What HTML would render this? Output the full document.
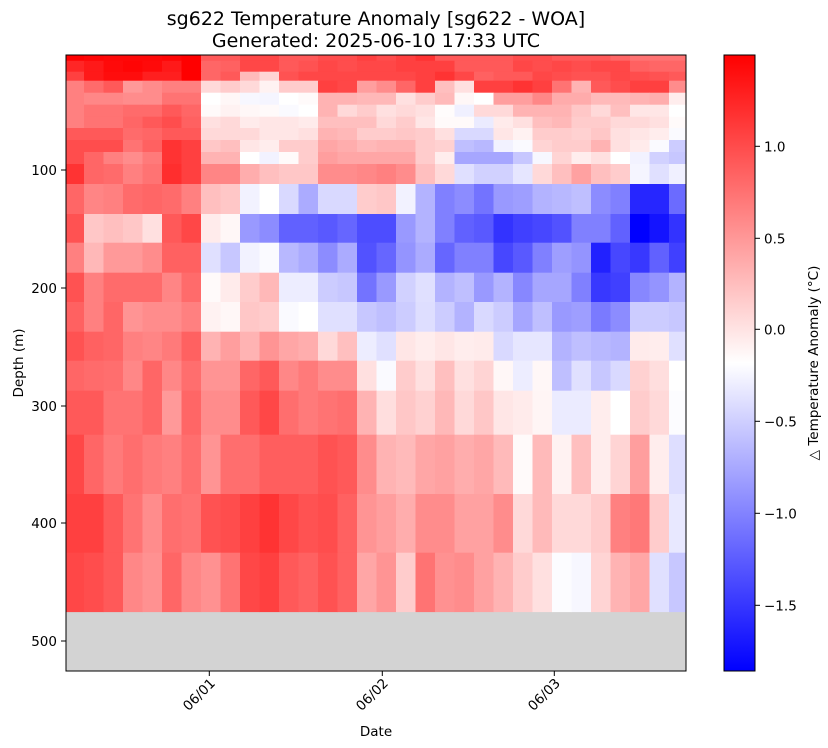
<!DOCTYPE html>
<html><head><meta charset="utf-8"><style>
html,body{margin:0;padding:0;background:#fff;}
svg{display:block;font-family:"DejaVu Sans","Liberation Sans",sans-serif;}
</style></head><body>
<svg id="s" width="828" height="748" viewBox="0 0 828 748" xmlns="http://www.w3.org/2000/svg">
<defs><linearGradient id="cb" x1="0" y1="1" x2="0" y2="0">
<stop offset="0" stop-color="#0000ff"/><stop offset="0.5" stop-color="#ffffff"/><stop offset="1" stop-color="#ff0000"/>
</linearGradient></defs>
<text x="376" y="25" font-size="19" text-anchor="middle">sg622 Temperature Anomaly [sg622 - WOA]</text>
<text x="376" y="47" font-size="19" text-anchor="middle">Generated: 2025-06-10 17:33 UTC</text>
<rect x="66" y="55" width="620" height="616" fill="#d3d3d3"/>
<g id="cells"></g>
<rect x="66" y="55" width="620" height="616" fill="none" stroke="#000" stroke-width="1"/>
<g stroke="#000" stroke-width="1">
<line x1="61" y1="170" x2="66" y2="170"/><line x1="61" y1="288" x2="66" y2="288"/>
<line x1="61" y1="406" x2="66" y2="406"/><line x1="61" y1="523" x2="66" y2="523"/>
<line x1="61" y1="641" x2="66" y2="641"/>
<line x1="209.3" y1="671" x2="209.3" y2="676"/><line x1="382.3" y1="671" x2="382.3" y2="676"/><line x1="554.3" y1="671" x2="554.3" y2="676"/>
</g>
<g font-size="13.5" text-anchor="end">
<text x="57" y="175">100</text><text x="57" y="293">200</text><text x="57" y="411">300</text>
<text x="57" y="528">400</text><text x="57" y="646">500</text>
<text transform="translate(216,684) rotate(-45)">06/01</text>
<text transform="translate(389,684) rotate(-45)">06/02</text>
<text transform="translate(561,684) rotate(-45)">06/03</text>
</g>
<text x="376" y="736" font-size="13.5" text-anchor="middle">Date</text>
<text transform="translate(23,363) rotate(-90)" font-size="13.5" text-anchor="middle">Depth (m)</text>
<rect x="724" y="55" width="31" height="616" fill="url(#cb)"/>
<rect x="724" y="55" width="31" height="616" fill="none" stroke="#000" stroke-width="1"/>
<g stroke="#000" stroke-width="1">
<line x1="755" y1="146.3" x2="760" y2="146.3"/><line x1="755" y1="238.3" x2="760" y2="238.3"/>
<line x1="755" y1="329.3" x2="760" y2="329.3"/><line x1="755" y1="421.3" x2="760" y2="421.3"/>
<line x1="755" y1="513.3" x2="760" y2="513.3"/><line x1="755" y1="605.3" x2="760" y2="605.3"/>
</g>
<g font-size="13.5">
<text x="764" y="151.3">1.0</text><text x="764" y="243.3">0.5</text><text x="764" y="334.3">0.0</text>
<text x="764" y="426.3">−0.5</text><text x="764" y="518.3">−1.0</text><text x="764" y="610.3">−1.5</text>
</g>
<text transform="translate(818,363) rotate(-90)" font-size="13.5" text-anchor="middle">△ Temperature Anomaly (°C)</text>
</svg>
<script>
var R=[55,60.7,71.7,80.7,92.7,104.7,116.7,128,140,152,164,184,214,242.7,272.7,302,331.7,360.7,390.7,434.7,494,552.7,611.7];
var C=[66,84];for(var k=1;k<=30;k++)C.push(84+19.5*k);C[31]=669;C.push(686);
var D=[
[1,.98,.97,.97,.97,.98,1,.65,.65,.72,.72,.65,.65,.7,.7,.75,.7,.75,.8,.65,.65,.65,.65,.7,.7,.65,.65,.65,.6,.55,.55,.55],
[.85,.9,.96,.98,.96,.9,1,.6,.62,.72,.72,.65,.68,.72,.7,.72,.72,.75,.75,.75,.65,.65,.65,.72,.7,.72,.7,.72,.72,.62,.6,.6],
[.75,.9,.95,.95,.88,.88,1,.6,.65,.27,.17,.68,.72,.72,.72,.72,.72,.72,.75,.8,.72,.62,.65,.65,.72,.7,.68,.68,.72,.7,.68,.65],
[.5,.58,.65,.4,.45,.5,.5,.15,.2,.15,.05,.2,.2,.75,.72,.38,.45,.6,.75,.25,.12,.75,.75,.8,.75,.55,.3,.65,.7,.75,.75,.45],
[.5,.47,.47,.45,.45,.55,.55,0,.03,-.03,-.04,0,.02,.3,.3,.28,.28,.12,.2,.27,.03,0,.38,.38,.47,.33,.33,.27,.27,.3,.32,.07],
[.5,.55,.55,.58,.58,.65,.6,.02,.05,.03,.02,-.02,0,.3,.15,.2,.12,.15,.12,.01,-.06,.15,.15,.3,.3,.3,.22,.15,.25,.1,.1,0],
[.5,.55,.55,.6,.65,.7,.62,.12,.15,.08,.1,.1,.08,.25,.25,.25,.15,.2,.1,.02,.02,-.08,.08,.12,.25,.28,.2,.2,.15,.15,.12,.02],
[.65,.65,.65,.58,.6,.65,.65,.15,.15,.15,.1,.1,.12,.3,.28,.2,.2,.22,.2,.12,-.15,-.15,.1,.05,.2,.2,.18,.22,.12,.1,.07,-.02],
[.7,.7,.7,.55,.62,.8,.75,.22,.25,.1,.07,.2,.2,.35,.32,.28,.3,.3,.2,.18,-.25,-.28,-.05,-.02,.17,.2,.2,.3,.12,.08,-.02,-.2],
[.7,.6,.5,.45,.52,.8,.75,.3,.3,0,-.05,.02,.2,.38,.35,.35,.35,.35,.2,.07,-.35,-.35,-.35,-.22,-.03,.17,.07,.12,0,-.05,-.18,-.22],
[.8,.6,.58,.5,.55,.82,.75,.48,.48,.32,.25,.22,.22,.45,.45,.47,.5,.45,.25,.15,-.12,-.18,-.18,-.1,.15,.25,.37,.25,.2,-.04,-.12,-.06],
[.6,.48,.5,.58,.6,.58,.5,.25,.22,-.05,0,-.15,-.33,-.15,-.15,.2,.22,-.05,-.3,-.5,-.45,-.55,-.4,-.38,-.3,-.28,-.25,-.45,-.5,-.85,-.85,-.58],
[.68,.22,.25,.22,.12,.65,.72,.08,.03,-.4,-.45,-.62,-.62,-.65,-.6,-.7,-.7,-.4,-.3,-.5,-.62,-.65,-.8,-.75,-.72,-.68,-.5,-.5,-.62,-1,-.92,-.8],
[.5,.28,.4,.4,.45,.62,.62,-.12,-.22,-.05,-.02,-.28,-.33,-.45,-.33,-.68,-.6,-.42,-.33,-.6,-.5,-.5,-.72,-.65,-.5,-.38,-.42,-.87,-.72,-.78,-.62,-.75],
[.68,.5,.58,.58,.58,.48,.58,.02,.08,.2,.28,-.07,-.07,-.2,-.22,-.55,-.4,-.18,-.12,-.3,-.25,-.4,-.3,-.47,-.35,-.35,-.5,-.78,-.75,-.47,-.42,-.3],
[.62,.5,.6,.42,.45,.45,.5,.05,.03,.22,.2,-.02,0,-.12,-.12,-.22,-.25,-.2,-.13,-.2,-.3,-.15,-.2,-.35,-.25,-.4,-.38,-.52,-.45,-.2,-.2,-.22],
[.68,.62,.6,.5,.48,.52,.62,.3,.38,.3,.42,.35,.32,.15,.25,-.07,-.12,.1,.07,.1,.07,.08,-.15,-.1,-.1,-.3,-.25,-.28,-.3,.08,.07,-.12],
[.6,.58,.57,.47,.6,.47,.57,.42,.42,.6,.65,.47,.52,.45,.45,.12,-.02,.2,.12,.25,.12,.17,.03,-.07,.03,-.25,-.12,-.22,-.15,.18,.13,0],
[.65,.65,.55,.55,.6,.4,.6,.45,.45,.65,.72,.57,.52,.55,.57,.3,.13,.22,.18,.28,.15,.22,.1,.08,.04,-.08,-.08,.07,0,.2,.15,-.01],
[.72,.6,.52,.57,.52,.5,.57,.42,.57,.57,.63,.63,.63,.68,.65,.45,.3,.27,.35,.37,.32,.35,.27,.02,.27,.05,.25,.07,.17,.38,.07,-.13],
[.75,.75,.65,.55,.45,.57,.55,.68,.7,.75,.8,.72,.68,.7,.62,.42,.38,.32,.45,.45,.37,.37,.45,.15,.27,.15,.15,.2,.5,.53,.2,-.09],
[.72,.7,.65,.47,.43,.6,.47,.43,.55,.72,.75,.65,.62,.68,.62,.35,.42,.2,.55,.43,.45,.37,.3,.2,.12,-.01,-.03,.17,.3,.35,-.12,-.22]];
var g=document.getElementById('cells'),h='';
for(var i=0;i<22;i++)for(var j=0;j<32;j++){var s=D[i][j],r,gg,b;
if(s>=0){r=255;gg=b=Math.round(255*(1-s));}else{r=gg=Math.round(255*(1+s));b=255;}
h+='<rect x="'+C[j]+'" y="'+R[i]+'" width="'+(C[j+1]-C[j]+0.4)+'" height="'+(R[i+1]-R[i]+0.4)+'" fill="rgb('+r+','+gg+','+b+')"/>';}
g.innerHTML=h;
</script>
</body></html>
